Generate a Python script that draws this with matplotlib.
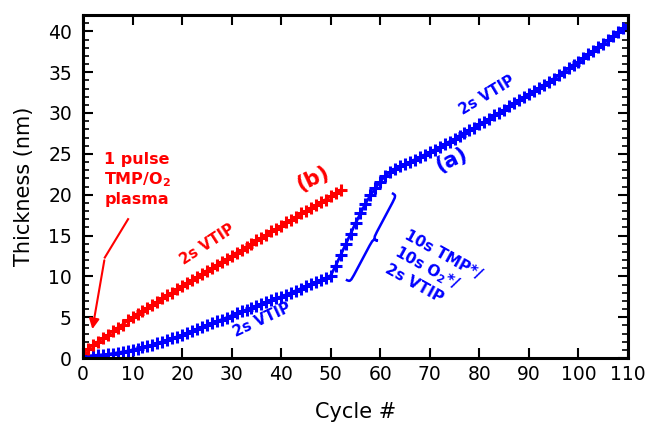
import numpy as np
import matplotlib.pyplot as plt
from matplotlib.path import Path
from matplotlib.patches import PathPatch
from matplotlib.transforms import Affine2D, ScaledTranslation

# thickness per cycle, (b): 1 pulse TMP/O2 plasma then 2s VTIP
cycles_b = np.arange(0, 53)
thick_b = [0.6, 1.1, 1.6, 2.0, 2.4, 2.8, 3.3, 3.7, 4.1, 4.6, 5.0,
           5.4, 5.8, 6.1, 6.5, 6.9, 7.3, 7.7, 8.0, 8.4, 8.8,
           9.2, 9.5, 9.9, 10.3, 10.7, 11.0, 11.4, 11.8, 12.1, 12.5,
           12.9, 13.2, 13.6, 14.0, 14.4, 14.7, 15.1, 15.5, 15.8, 16.2,
           16.6, 16.9, 17.3, 17.7, 18.0, 18.4, 18.7, 19.1, 19.4, 19.8,
           20.2, 20.6]

# thickness per cycle, (a): 2s VTIP / TMP*-O2* / 2s VTIP
cycles_a = np.arange(0, 111)
thick_a = [0.2, 0.25, 0.3, 0.35, 0.4, 0.45, 0.55, 0.65, 0.75, 0.85, 1.0,
           1.15, 1.3, 1.45, 1.6, 1.8, 2.0, 2.2, 2.4, 2.6, 2.8,
           3.05, 3.3, 3.55, 3.8, 4.0, 4.25, 4.5, 4.7, 4.95, 5.2,
           5.45, 5.7, 5.9, 6.15, 6.4, 6.6, 6.85, 7.05, 7.3, 7.5,
           7.75, 8.0, 8.25, 8.5, 8.8, 9.05, 9.3, 9.55, 9.8, 10.1,
           11.3, 12.6, 13.9, 15.2, 16.5, 17.7, 18.9, 19.9, 20.8, 21.6,
           22.3, 22.8, 23.2, 23.5, 23.7, 24.0, 24.3, 24.6, 24.9, 25.2,
           25.5, 25.8, 26.2, 26.5, 26.8, 27.2, 27.5, 27.9, 28.2, 28.6,
           28.95, 29.3, 29.7, 30.05, 30.4, 30.8, 31.2, 31.55, 31.9, 32.3,
           32.7, 33.05, 33.45, 33.8, 34.2, 34.6, 35.05, 35.45, 35.9, 36.3,
           36.75, 37.2, 37.6, 38.05, 38.5, 38.95, 39.4, 39.9, 40.35, 40.8]

fig = plt.figure(figsize=(6.47, 4.22), dpi=100)
ax = fig.add_axes([83/647, 1 - 358/422, 545/647, 343/422])

ax.plot(cycles_a, thick_a, color='blue', marker='+', ms=8, mew=2.2, lw=2)
ax.plot(cycles_b, thick_b, color='red', marker='+', ms=8, mew=2.2, lw=2)

ax.set_xlim(0, 110)
ax.set_ylim(0, 42)
ax.set_xticks(np.arange(0, 111, 10))
ax.set_yticks(np.arange(0, 41, 5))
ax.set_yticks(np.arange(0, 42, 1), minor=True)
ax.tick_params(which='both', direction='in', top=True, right=True, labelsize=13.5)
ax.tick_params(which='major', length=7, width=1.5)
ax.tick_params(which='minor', length=4, width=1.2)
ax.tick_params(axis='y', which='major', pad=8)
ax.tick_params(axis='x', which='major', pad=5)
for s in ax.spines.values():
    s.set_linewidth(2.2)
ax.set_xlabel("Cycle #", fontsize=15, labelpad=13)
ax.set_ylabel("Thickness (nm)", fontsize=15, labelpad=10)

# annotations
red_kw = dict(color='red', fontweight='bold', ha='center', va='center')
blue_kw = dict(color='blue', fontweight='bold', ha='center', va='center')
ax.text(10.9, 21.9, "1 pulse\nTMP/O$_\\mathbf{2}$\nplasma", fontsize=11.5, linespacing=1.25, **red_kw)
ax.text(46.4, 21.9, "(b)", fontsize=15, rotation=25, **red_kw)
ax.text(25.2, 13.9, "2s VTIP", fontsize=10.5, rotation=33, **red_kw)
ax.text(36.1, 4.7, "2s VTIP", fontsize=10.5, rotation=25, **blue_kw)
ax.text(74.3, 24.3, "(a)", fontsize=15, rotation=25, **blue_kw)
ax.text(81.5, 32.2, "2s VTIP", fontsize=10.5, rotation=31, **blue_kw)
ax.text(65.8, 16.0, "10s TMP*/\n10s O$_\\mathbf{2}$*/\n2s VTIP", fontsize=11,
        color='blue', fontweight='bold', rotation=-29, rotation_mode='anchor',
        ha='left', va='top', linespacing=1.2)

# arrow for the plasma pulse
ax.plot([9.1, 4.4], [17.0, 12.3], color='red', lw=1.5)
ax.annotate("", xy=(1.8, 3.2), xytext=(4.4, 12.3),
            arrowprops=dict(arrowstyle='-|>', color='red', lw=1.5, mutation_scale=15))

# curly brace
h, a, r = 0.49, 0.05, 0.12
verts = [(0, h), (a, h), (a, h), (a, h - r), (a, r),
         (a, 0), (a, 0), (2*a, 0),
         (a, 0), (a, 0), (a, -r), (a, -h + r),
         (a, -h), (a, -h), (0, -h)]
codes = [Path.MOVETO, Path.CURVE4, Path.CURVE4, Path.CURVE4, Path.LINETO,
         Path.CURVE4, Path.CURVE4, Path.CURVE4,
         Path.CURVE4, Path.CURVE4, Path.CURVE4, Path.LINETO,
         Path.CURVE4, Path.CURVE4, Path.CURVE4]
tr = Affine2D().rotate_deg(-28) + fig.dpi_scale_trans + ScaledTranslation(57.7, 14.9, ax.transData)
ax.add_patch(PathPatch(Path(verts, codes), fill=False, edgecolor='blue', lw=1.8, transform=tr))

fig.savefig("out.png", dpi=100)
